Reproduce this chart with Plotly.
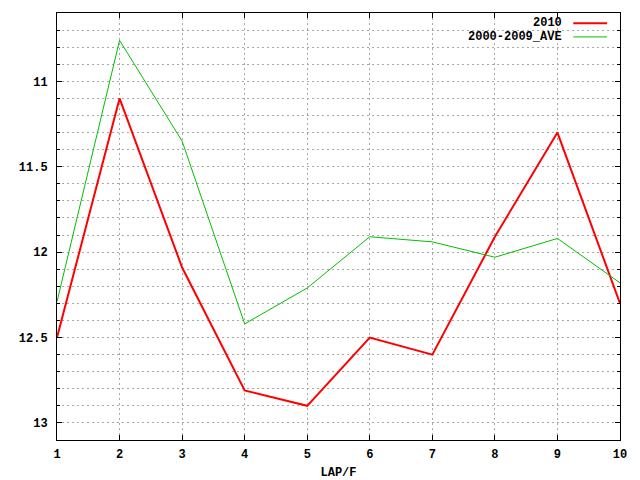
import plotly.graph_objects as go

laps = [1, 2, 3, 4, 5, 6, 7, 8, 9, 10]
y2010 = [12.5, 11.1, 12.09, 12.81, 12.9, 12.5, 12.6, 11.91, 11.3, 12.3]
ave = [12.29, 10.76, 11.35, 12.42, 12.21, 11.91, 11.94, 12.03, 11.92, 12.18]
series_names = ["2010", "2000-2009_AVE"]
y_ticks = [11, 11.5, 12, 12.5, 13]

FONT = dict(family="Liberation Mono, DejaVu Sans Mono, monospace", size=12, color="black", weight="bold")
GRID = "#a8a8a8"
DASH = "2px,3px"

fig = go.Figure()
fig.add_trace(go.Scatter(x=laps, y=y2010, mode="lines", name=series_names[0],
                         line=dict(color="#ff0000", width=2), showlegend=False))
fig.add_trace(go.Scatter(x=laps, y=ave, mode="lines", name=series_names[1],
                         line=dict(color="#00c000", width=1), showlegend=False))

# legend (gnuplot style: text right-aligned, sample line on the right)
legend_rows = [(series_names[0], "#ff0000", 2, 0.976), (series_names[1], "#00c000", 1, 0.944)]
for name, col, w, yp in legend_rows:
    fig.add_annotation(xref="paper", yref="paper", x=0.901, y=yp, text=name, showarrow=False,
                       xanchor="right", yanchor="middle", font=FONT)
    fig.add_shape(type="line", xref="paper", yref="paper", x0=0.917, x1=0.977, y0=yp, y1=yp,
                  line=dict(color=col, width=w))

fig.update_layout(
    width=640, height=480,
    margin=dict(l=57, r=20, t=13, b=40),
    plot_bgcolor="white", paper_bgcolor="white",
    font=FONT,
    xaxis=dict(range=[1, 10], tickmode="array", tickvals=laps, ticktext=[str(v) for v in laps],
               ticks="inside", ticklen=5, tickcolor="black", showline=True, linecolor="black",
               linewidth=1, mirror="ticks", showgrid=True, gridcolor=GRID, griddash=DASH,
               gridwidth=1, zeroline=False, tickfont=FONT, automargin=False, ticklabelstandoff=3,
               title=dict(text="LAP/F", font=FONT, standoff=8)),
    yaxis=dict(range=[13.1, 10.6], tickmode="array", tickvals=y_ticks,
               ticktext=[str(v) for v in y_ticks],
               ticks="inside", ticklen=5, tickcolor="black", showline=True, linecolor="black",
               linewidth=1, mirror="ticks", showgrid=True, gridcolor=GRID, griddash=DASH,
               gridwidth=1, zeroline=False, tickfont=FONT, ticklabelstandoff=6, automargin=False,
               minor=dict(dtick=0.1, tick0=0, ticks="inside", ticklen=3, tickcolor="black",
                          showgrid=True, gridcolor=GRID, griddash=DASH, gridwidth=1)),
)

fig.write_html("out.html", config={"displayModeBar": False},
               post_script="document.body.style.margin='0';")
